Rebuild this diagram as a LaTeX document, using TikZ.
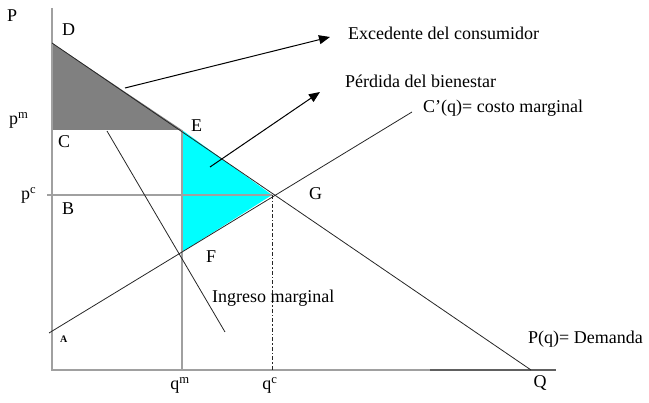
\documentclass[tikz,border=0pt]{standalone}
\usepackage{fontspec}
\setmainfont{Liberation Serif}
\usetikzlibrary{arrows.meta, positioning, calc}
\definecolor{axisgray}{RGB}{160, 160, 160}
\definecolor{axisdark}{RGB}{96, 96, 96}
\definecolor{surplusgray}{RGB}{128, 128, 128}
\definecolor{losscyan}{RGB}{0, 255, 255}
\tikzset{
  >=Stealth,
  axisline/.style={draw=axisgray, line width=1.3pt},
  curveline/.style={draw=black!85, line width=0.8pt},
  guideline/.style={draw=axisgray, line width=1.1pt},
  labelarrow/.style={-{Triangle[length=11pt, width=9pt]}, line width=1pt, black},
  txt/.style={font=\fontsize{18}{21}\selectfont, inner sep=0pt, anchor=base west},
  smalltxt/.style={font=\fontsize{10}{12}\selectfont\bfseries, inner sep=0pt, anchor=base west}
}

\begin{document}
\begin{tikzpicture}[x=1pt, y=-1pt]
    \useasboundingbox (0,0) rectangle (649,403);

    % --- KEY POINTS ---
    \coordinate (O) at (52,370);
    \coordinate (Ptop) at (52,8);
    \coordinate (Qmid) at (430,370);
    \coordinate (Qend) at (556,370);
    \coordinate (D) at (52,43);
    \coordinate (C) at (52,130);
    \coordinate (E) at (182,130);
    \coordinate (Bleft) at (47,195);
    \coordinate (G) at (272,195);
    \coordinate (F) at (182,252);
    \coordinate (qm) at (182,370);
    \coordinate (qc) at (272,370);
    \coordinate (demEnd) at (531,370);
    \coordinate (mcStart) at (49,333);
    \coordinate (mcEnd) at (412,112);
    \coordinate (mrStart) at (107,131);
    \coordinate (mrEnd) at (225,332);

    % --- AREAS ---
    \fill[surplusgray] (D) -- (C) -- (E) -- cycle;
    \fill[losscyan] (E) -- (G) -- (F) -- cycle;

    % --- AXES AND GUIDES ---
    \draw[axisline] (Ptop) -- (O) -- (Qmid);
    \draw[draw=axisdark, line width=1.3pt] (Qmid) -- (Qend);
    \draw[guideline] (Bleft) -- (G);
    \draw[guideline] (E) -- (qm);
    \draw[curveline, dash pattern=on 4pt off 2pt on 1.5pt off 2pt] (G) -- (qc);

    % --- CURVES ---
    \draw[curveline] (D) -- (demEnd);
    \draw[curveline] (mcStart) -- (mcEnd);
    \draw[curveline] (mrStart) -- (mrEnd);

    % --- LABEL ARROWS ---
    \coordinate (excTail) at (125,88);
    \coordinate (excTip) at (330,37);
    \coordinate (perTail) at (210,167);
    \coordinate (perTip) at (320,92);
    \draw[labelarrow] (excTail) -- (excTip);
    \draw[labelarrow] (perTail) -- (perTip);

    % --- LABELS ---
    \node[txt] (lblP) at (7,22) {P};
    \node[txt] (lblD) at (62,36) {D};
    \node[txt] (lblpm) at (9,125) {p\textsuperscript{m}};
    \node[txt] (lblC) at (58,148) {C};
    \node[txt] (lblE) at (191,132) {E};
    \node[txt] (lblpc) at (21,200) {p\textsuperscript{c}};
    \node[txt] (lblB) at (62,215) {B};
    \node[txt] (lblF) at (206,263) {F};
    \node[txt] (lblG) at (309,200) {G};
    \node[smalltxt] (lblA) at (60,343) {A};
    \node[txt, anchor=base] (lblqm) at (180,390) {q\textsuperscript{m}};
    \node[txt, anchor=base] (lblqc) at (270,390) {q\textsuperscript{c}};
    \node[txt, anchor=base] (lblQ) at (540,388) {Q};

    \node[txt] (lblExc) at (348,40) {Excedente del consumidor};
    \node[txt] (lblPer) at (345,88) {Pérdida del bienestar};
    \node[txt] (lblMC) at (423,113) {C’(q)= costo marginal};
    \node[txt] (lblMR) at (212,303) {Ingreso marginal};
    \node[txt] (lblDem) at (528,344) {P(q)= Demanda};
\end{tikzpicture}
\end{document}
